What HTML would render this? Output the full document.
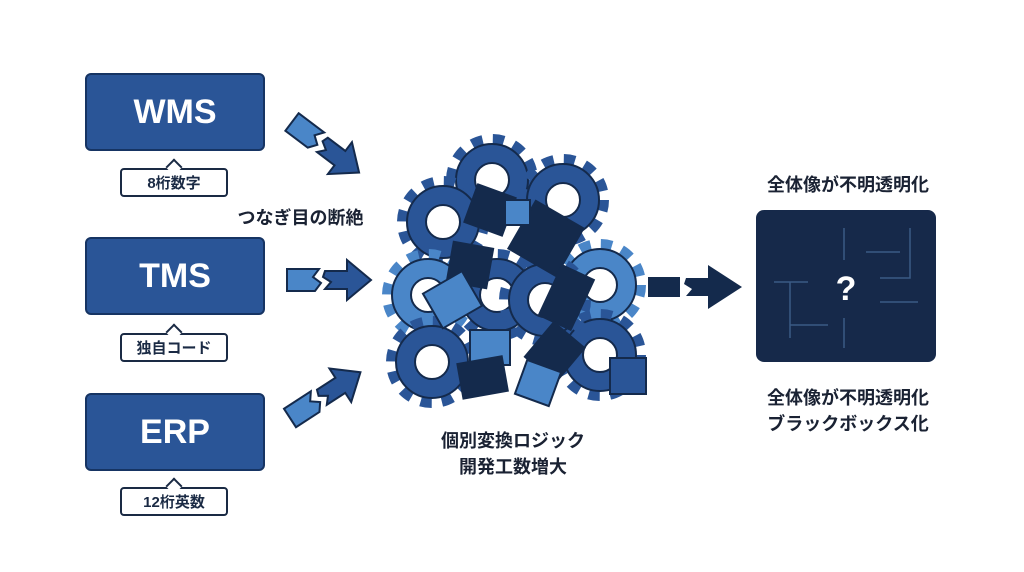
<!DOCTYPE html>
<html><head><meta charset="utf-8"><style>
body{margin:0;width:1024px;height:572px;background:#fff;font-family:"Liberation Sans","Noto Sans CJK JP",sans-serif;overflow:hidden;position:relative}
.sys{position:absolute;left:85px;width:180px;height:78px;background:#2a5597;border:2px solid #163463;border-radius:6px;box-sizing:border-box;color:#fff;font-weight:bold;font-size:34px;display:flex;align-items:center;justify-content:center}
.lab{position:absolute;left:120px;width:108px;height:29px;border:2px solid #1a2a44;border-radius:4px;box-sizing:border-box;background:#fff;font-size:15px;font-weight:bold;color:#1a2a44;display:flex;align-items:center;justify-content:center}
.lab:before{content:"";position:absolute;left:46px;top:-9px;width:10px;height:10px;background:#fff;border-left:2px solid #1a2a44;border-top:2px solid #1a2a44;transform:rotate(45deg)}
.t{position:absolute;font-weight:bold;color:#1a2233;font-size:18px;text-align:center;line-height:26px}
</style></head><body>
<div class="sys" style="top:73px">WMS</div>
<div class="lab" style="top:168px">8桁数字</div>
<div class="sys" style="top:237px">TMS</div>
<div class="lab" style="top:333px">独自コード</div>
<div class="sys" style="top:393px">ERP</div>
<div class="lab" style="top:487px">12桁英数</div>
<div class="t" style="left:223px;top:205px;width:155px">つなぎ目の断絶</div>
<div class="t" style="left:413px;top:428px;width:200px">個別変換ロジック<br>開発工数増大</div>
<div class="t" style="left:748px;top:172px;width:200px">全体像が不明透明化</div>
<div class="t" style="left:748px;top:385px;width:200px">全体像が不明透明化<br>ブラックボックス化</div>
<svg width="1024" height="572" style="position:absolute;left:0;top:0">
<defs>
<g id="arr"><polygon points="0,-11 32,-11 26,-3 34,3 28,11 0,11" fill="#4a86c8" stroke="#142a4c" stroke-width="2"/><polygon points="38,-9 60,-9 60,-20 84,0 60,20 60,9 38,9 44,2 36,-3" fill="#2a5597" stroke="#142a4c" stroke-width="2"/></g>
<g id="gear"><circle r="40" fill="none" stroke="#2a5597" stroke-width="12" stroke-dasharray="11 10"/><circle r="36" fill="#2a5597" stroke="#142a4c" stroke-width="2"/><circle r="17" fill="#fff" stroke="#142a4c" stroke-width="2"/></g>
<g id="gearL"><circle r="40" fill="none" stroke="#4a86c8" stroke-width="12" stroke-dasharray="11 10"/><circle r="36" fill="#4a86c8" stroke="#142a4c" stroke-width="2"/><circle r="17" fill="#fff" stroke="#142a4c" stroke-width="2"/></g>
</defs>
<use href="#arr" transform="translate(292,122) rotate(37)"/>
<use href="#arr" transform="translate(287,280)"/>
<use href="#arr" transform="translate(290,418) rotate(-33)"/>
<g transform="translate(648,287)"><rect x="0" y="-10" width="32" height="20" fill="#142a4c"/><polygon points="38,-9 60,-9 60,-22 94,0 60,22 60,9 38,9 44,2 36,-3" fill="#142a4c"/></g>
<use href="#gear" transform="translate(492,180)"/>
<use href="#gear" transform="translate(443,222)"/>
<use href="#gear" transform="translate(563,200)"/>
<use href="#gearL" transform="translate(428,295)"/>
<use href="#gear" transform="translate(497,295)"/>
<use href="#gearL" transform="translate(600,285)"/>
<use href="#gear" transform="translate(432,362)"/>
<use href="#gear" transform="translate(600,355)"/>
<use href="#gear" transform="translate(545,300)"/>
<g stroke="#142a4c" stroke-width="2">
<rect x="470" y="190" width="40" height="40" fill="#142a4c" transform="rotate(20 490 210)"/>
<rect x="520" y="210" width="55" height="55" fill="#142a4c" transform="rotate(30 545 235)"/>
<rect x="450" y="245" width="40" height="40" fill="#142a4c" transform="rotate(10 470 265)"/>
<rect x="430" y="280" width="45" height="40" fill="#4a86c8" transform="rotate(-30 452 300)"/>
<rect x="550" y="270" width="35" height="55" fill="#142a4c" transform="rotate(25 567 295)"/>
<rect x="470" y="330" width="40" height="35" fill="#4a86c8"/>
<rect x="460" y="360" width="45" height="35" fill="#142a4c" transform="rotate(-10 482 377)"/>
<rect x="535" y="330" width="40" height="45" fill="#142a4c" transform="rotate(40 555 352)"/>
<rect x="520" y="365" width="36" height="36" fill="#4a86c8" transform="rotate(20 538 383)"/>
<rect x="610" y="358" width="36" height="36" fill="#2a5597"/>
<rect x="505" y="200" width="25" height="25" fill="#4a86c8"/>
</g>
<rect x="756" y="210" width="180" height="152" rx="8" fill="#16294a"/>
<g stroke="#3a5a85" stroke-width="1.5" fill="none">
<path d="M844 228V260M866 252H900M910 228V278H880M774 282H808M790 282V338M790 325H828M844 318V348M880 302H918"/>
</g>
<text x="846" y="300" font-size="34" font-weight="bold" fill="#fff" text-anchor="middle" font-family="Liberation Sans">?</text>
</svg>
</body></html>
